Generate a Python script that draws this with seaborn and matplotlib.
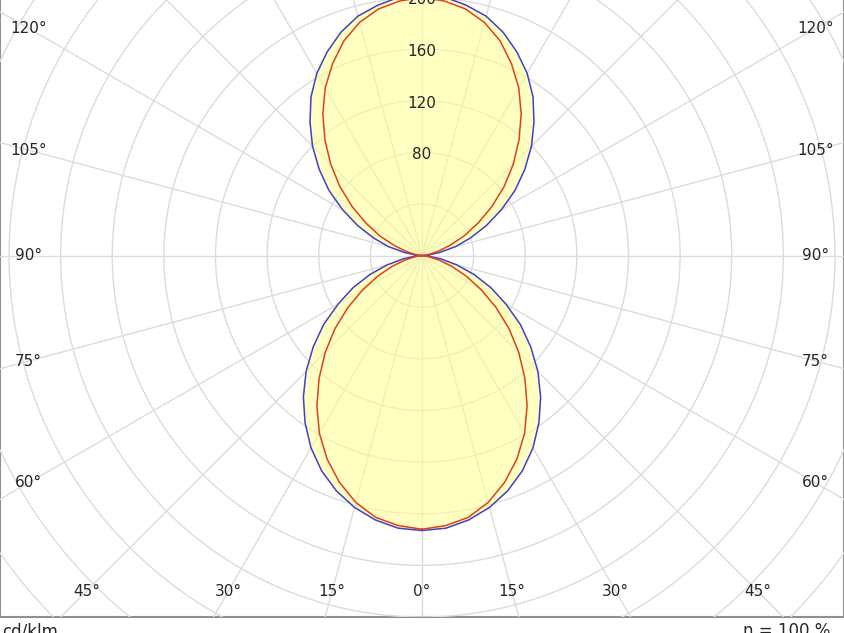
import numpy as np
import matplotlib
matplotlib.use("Agg")
import matplotlib.pyplot as plt
import seaborn as sns

sns.set_style("white")
plt.rcParams['font.family'] = ['DejaVu Sans']

# angles (deg from nadir) and intensities (cd/klm)
angles = list(range(0, 181, 5))
c90_270 = [213, 212, 208, 202, 194, 184, 172, 158, 143, 127, 110, 93, 75, 59, 43, 28, 15, 5, 0,
           5, 14, 27, 40, 55, 71, 88, 104, 120, 135, 150, 163, 174, 184, 192, 197, 201, 202]
c0_180 = [212, 210, 206, 198, 187, 174, 159, 142, 124, 106, 88, 70, 53, 38, 25, 14, 6, 2, 0,
          2, 6, 13, 23, 36, 50, 66, 83, 100, 117, 134, 150, 164, 177, 187, 194, 198, 200]
radial_ticks = [80, 120, 160, 200]
side_labels = [120, 105, 90, 75, 60]
bottom_labels = [-45, -30, -15, 0, 15, 30, 45]

def to_xy(ang, val):
    a = np.deg2rad(np.array(ang + [-x for x in ang[::-1]], float))
    v = np.array(val + val[::-1], float)
    return v * np.sin(a), -v * np.cos(a)

fig = plt.figure(figsize=(8.44, 6.33), dpi=100)
ax = fig.add_axes([0, 1 - 617 / 633, 1, 617 / 633])
ax.set_xlim(-327, 327)
ax.set_ylim(-280, 198)
ax.set_aspect('auto')

grid = '#dcdcdc'
t = np.linspace(0, 2 * np.pi, 400)
for r in range(40, 521, 40):
    ax.plot(r * np.cos(t), r * np.sin(t), color=grid, lw=1, zorder=3)
for d in range(0, 360, 15):
    a = np.deg2rad(d)
    ax.plot([0, 600 * np.sin(a)], [0, -600 * np.cos(a)], color=grid, lw=1, zorder=3)

xb, yb = to_xy(angles, c90_270)
xr, yr = to_xy(angles, c0_180)
ax.fill(xb, yb, color='#ffff99', alpha=0.6, zorder=4)
ax.plot(xb, yb, color='#4040d0', lw=1.1, zorder=5)
ax.plot(xr, yr, color='#e04020', lw=1.1, zorder=5)

for v in radial_ticks:
    ax.text(0, v - 2, str(v), ha='center', va='center', fontsize=11, zorder=6)

xs = 305
for d in side_labels:
    y = -xs / np.tan(np.deg2rad(d))
    ax.text(-xs, y, f"{d}°", ha='center', va='center', fontsize=11, zorder=6)
    ax.text(xs, y, f"{d}°", ha='center', va='center', fontsize=11, zorder=6)
yb0 = -260
for d in bottom_labels:
    x = -yb0 * np.tan(np.deg2rad(abs(d))) * np.sign(d)
    ax.text(x, yb0, f"{abs(d)}°", ha='center', va='center', fontsize=11, zorder=6)

ax.set_xticks([]); ax.set_yticks([])
for s in ['left', 'right', 'bottom']:
    ax.spines[s].set_color('#909090'); ax.spines[s].set_linewidth(1.5)
ax.spines['top'].set_visible(False)

fig.text(2 / 844, 0.003, "cd/klm", ha='left', va='center', fontsize=12)
fig.text(830 / 844, 0.003, "η = 100 %", ha='right', va='center', fontsize=12)

fig.savefig("out.png", dpi=100)
